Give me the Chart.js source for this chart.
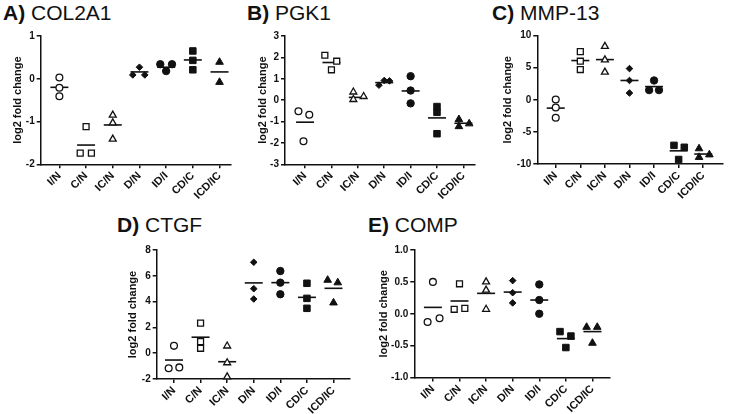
<!DOCTYPE html>
<html>
<head>
<meta charset="utf-8">
<script src="https://cdn.jsdelivr.net/npm/chart.js@4"></script>
<style>
  html, body { margin: 0; padding: 0; background: #fff; }
  #wrap { position: relative; width: 733px; height: 414px; overflow: hidden; }
  #wrap canvas { position: absolute; left: 0; top: 0; }
  .ttl { position: absolute; font-family: "Liberation Sans", Arial, sans-serif; font-size: 21px; line-height: 21px; color: #111; white-space: nowrap; }
  .ttl b { font-weight: bold; }
</style>
</head>
<body>
<div id="wrap">
  <div class="ttl" style="left:3px;top:2px"><b>A)</b> COL2A1</div>
  <div class="ttl" style="left:247px;top:2px"><b>B)</b> PGK1</div>
  <div class="ttl" style="left:492px;top:2px"><b>C)</b> MMP-13</div>
  <div class="ttl" style="left:117px;top:214px"><b>D)</b> CTGF</div>
  <div class="ttl" style="left:368px;top:214px"><b>E)</b> COMP</div>
  <canvas id="cA" width="733" height="414"></canvas>
  <canvas id="cB" width="733" height="414"></canvas>
  <canvas id="cC" width="733" height="414"></canvas>
  <canvas id="cD" width="733" height="414"></canvas>
  <canvas id="cE" width="733" height="414"></canvas>
</div>
<script>
// ---- data ----
const categories = ['I/N', 'C/N', 'IC/N', 'D/N', 'ID/I', 'CD/C', 'ICD/IC'];

const col2a1Values = [[0.03, -0.21, -0.41], [-1.12, -1.74, -1.74], [-0.85, -1.03, -1.41], [0.09, 0.27, 0.09], [0.34, 0.34, 0.18], [0.65, 0.43, 0.21], [0.39, -0.08]];
const col2a1Jitter = [[0, 0, 0], [0, -0.22, 0.2], [0, 0, 0], [-0.25, 0, 0.2], [-0.22, 0.22, 0], [0, 0, 0], [0, 0]];
const col2a1Means  = [-0.2, -1.55, -1.08, 0.16, 0.27, 0.44, 0.16];
const col2a1Ticks  = [-2, -1, 0, 1];

const pgk1Values = [[-0.52, -0.68, -1.92], [2.1, 1.42, 1.82], [0.38, 0.03, 0.17], [0.7, 0.92, 0.9], [1.12, 0.45, -0.15], [-0.3, -0.57, -1.57], [-0.9, -1.23, -1.1]];
const pgk1Jitter = [[-0.25, 0.16, -0.06], [-0.25, 0, 0.2], [-0.17, -0.17, 0.22], [-0.2, 0, 0.2], [0, 0, 0], [0, 0, 0], [-0.17, -0.17, 0.22]];
const pgk1Means  = [-1.03, 1.76, 0.13, 0.82, 0.43, -0.83, -1.08];
const pgk1Ticks  = [-3, -2, -1, 0, 1, 2, 3];

const mmp13Values = [[0.05, -1.2, -2.8], [7.5, 6.0, 4.7], [8.3, 6.2, 4.3], [4.85, 3.0, 1.05], [3.0, 1.5, 1.5], [-7.1, -7.4, -9.3], [-7.6, -8.95, -8.55]];
const mmp13Jitter = [[0, 0, 0], [0, 0, 0], [0, 0, 0], [0, 0, 0], [0, -0.2, 0.2], [-0.19, 0.23, 0], [-0.17, -0.17, 0.25]];
const mmp13Means  = [-1.3, 6.1, 6.25, 3.0, 2.05, -7.95, -8.45];
const mmp13Ticks  = [-10, -5, 0, 5, 10];

const ctgfValues = [[0.57, -1.17, -1.1], [2.33, 0.9, 0.38], [0.56, -0.74, -1.83], [7.05, 5.0, 4.2], [6.37, 5.47, 4.57], [5.42, 4.25, 3.48], [5.67, 5.47, 3.91]];
const ctgfJitter = [[0, -0.2, 0.2], [0, 0, 0], [0, 0, 0], [0, 0, 0], [0, 0, 0], [0, 0, 0], [-0.22, 0.16, 0]];
const ctgfMeans  = [-0.53, 1.24, -0.66, 5.45, 5.47, 4.33, 5.03];
const ctgfTicks  = [-2, 0, 2, 4, 6, 8];

const compValues = [[0.5, -0.13, -0.07], [0.47, 0.07, 0.085], [0.5, 0.37, 0.07], [0.52, 0.33, 0.17], [0.46, 0.215, 0.0], [-0.28, -0.35, -0.53], [-0.21, -0.21, -0.46]];
const compJitter = [[0, -0.2, 0.25], [0, -0.2, 0.2], [0, 0, 0], [0, 0, 0], [0, 0, 0], [-0.22, 0.19, 0], [-0.22, 0.18, 0]];
const compMeans  = [0.1, 0.2, 0.32, 0.34, 0.215, -0.39, -0.28];
const compTicks  = [-1.0, -0.5, 0, 0.5, 1.0];

const yAxisTitle = 'log2 fold change';

// ---- styling ----
const INK = '#111';
const FONT = '"Liberation Sans", Arial, sans-serif';
const markers = [
  { style: 'circle',   fill: '#fff', r: 3.4, bw: 1.3 },
  { style: 'rect',     fill: '#fff', r: 4.2, bw: 1.3 },
  { style: 'triangle', fill: '#fff', r: 4.0, bw: 1.3 },
  { style: 'rectRot',  fill: INK,    r: 3.3, bw: 1 },
  { style: 'circle',   fill: INK,    r: 3.7, bw: 1 },
  { style: 'rect',     fill: INK,    r: 4.6, bw: 1 },
  { style: 'triangle', fill: INK,    r: 4.4, bw: 1 }
];
const W = 733, H = 414, XH = 45;

function makePanel(id, values, jitter, means, yTicks, area, fmt) {
  const yW = area.left - (area.titleX - 6.6);
  const datasets = [];
  values.forEach((vals, gi) => {
    const m = markers[gi];
    datasets.push({
      data: vals.map((v, k) => ({ x: gi + jitter[gi][k], y: v })),
      pointStyle: m.style,
      pointRadius: m.r,
      pointBackgroundColor: m.fill,
      pointBorderColor: INK,
      pointBorderWidth: m.bw,
      showLine: false,
      clip: false
    });
  });
  datasets.push({
    data: means.map((v, gi) => ({ x: gi, y: v })),
    pointStyle: 'line',
    pointRadius: 9,
    pointBorderColor: INK,
    pointBorderWidth: 1.6,
    showLine: false,
    clip: false
  });
  new Chart(document.getElementById(id), {
    type: 'scatter',
    data: { datasets },
    options: {
      responsive: false,
      animation: false,
      events: [],
      layout: { padding: { left: area.left - yW, top: area.top, right: W - area.right, bottom: H - area.bottom - XH } },
      plugins: { legend: { display: false }, tooltip: { enabled: false }, title: { display: false } },
      scales: {
        x: {
          type: 'linear', position: 'bottom',
          min: area.xmin, max: area.xmax,
          afterBuildTicks: s => { s.ticks = categories.map((c, i) => ({ value: i })); },
          afterFit: s => { s.height = XH; },
          ticks: {
            autoSkip: false, minRotation: 45, maxRotation: 45, padding: 1,
            color: INK, font: { family: FONT, size: 11, weight: 'bold' },
            callback: v => categories[Math.round(v)]
          },
          grid: { drawOnChartArea: false, drawTicks: true, tickLength: 4, color: INK, lineWidth: 1.5 },
          border: { display: true, color: INK, width: 1.5 }
        },
        y: {
          type: 'linear', position: 'left',
          min: yTicks[0], max: yTicks[yTicks.length - 1],
          afterBuildTicks: s => { s.ticks = yTicks.map(v => ({ value: v })); },
          afterFit: s => { s.width = yW; },
          ticks: {
            padding: 2, color: INK, font: { family: FONT, size: 10, weight: 'bold' },
            callback: v => fmt(v)
          },
          title: { display: true, text: yAxisTitle, color: INK, padding: 0, font: { family: FONT, size: 11, weight: 'bold' } },
          grid: { drawOnChartArea: false, drawTicks: true, tickLength: 4, color: INK, lineWidth: 1.5 },
          border: { display: true, color: INK, width: 1.5 }
        }
      }
    }
  });
}

const intFmt = v => String(v);
const decFmt = v => v.toFixed(1);

makePanel('cA', col2a1Values, col2a1Jitter, col2a1Means, col2a1Ticks,
  { left: 40.7, top: 36, right: 231, bottom: 164.3, xmin: -0.7, xmax: 6.43, titleX: 18 }, intFmt);
makePanel('cB', pgk1Values, pgk1Jitter, pgk1Means, pgk1Ticks,
  { left: 285, top: 36, right: 475, bottom: 164.3, xmin: -0.76, xmax: 6.44, titleX: 263 }, intFmt);
makePanel('cC', mmp13Values, mmp13Jitter, mmp13Means, mmp13Ticks,
  { left: 537.3, top: 35.5, right: 733, bottom: 164, xmin: -0.75, xmax: 6.78, titleX: 508 }, intFmt);
makePanel('cD', ctgfValues, ctgfJitter, ctgfMeans, ctgfTicks,
  { left: 156.7, top: 250, right: 350, bottom: 379, xmin: -0.65, xmax: 6.62, titleX: 133 }, intFmt);
makePanel('cE', compValues, compJitter, compMeans, compTicks,
  { left: 414.3, top: 250, right: 610, bottom: 377.5, xmin: -0.7, xmax: 6.66, titleX: 384 }, decFmt);
</script>
</body>
</html>
